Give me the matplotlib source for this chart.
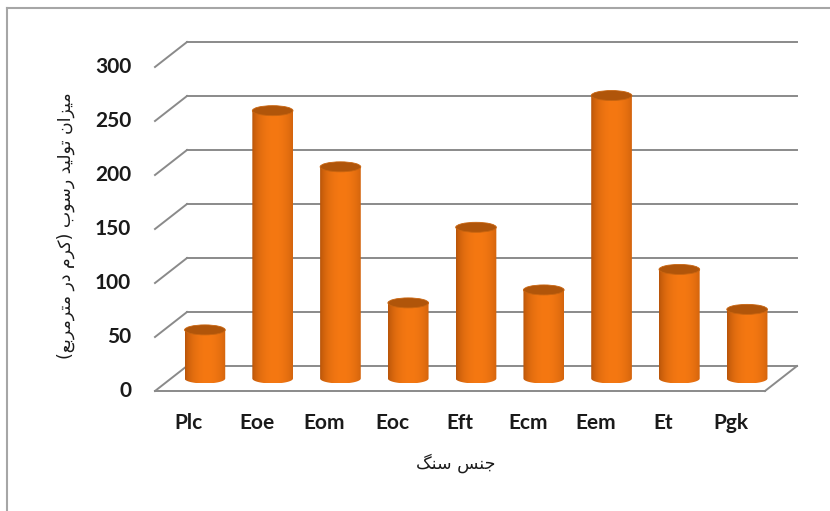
import numpy as np
import matplotlib.pyplot as plt
from matplotlib.patches import Ellipse, Polygon
from matplotlib.lines import Line2D

# data
categories = ['Plc', 'Eoe', 'Eom', 'Eoc', 'Eft', 'Ecm', 'Eem', 'Et', 'Pgk']
values = [45, 248, 196, 70, 140, 82, 262, 101, 64]
yticks = [0, 50, 100, 150, 200, 250, 300]
ylabel = 'میزان تولید رسوب (کرم در مترمربع)'
xlabel = 'جنس سنگ'

# small persian shaper (matplotlib has no arabic shaping / bidi)
FORMS = {
    'ا': (0xFE8D, 0xFE8E, None, None),
    'د': (0xFEA9, 0xFEAA, None, None),
    'ر': (0xFEAD, 0xFEAE, None, None),
    'ز': (0xFEAF, 0xFEB0, None, None),
    'و': (0xFEED, 0xFEEE, None, None),
    'ب': (0xFE8F, 0xFE90, 0xFE91, 0xFE92),
    'ت': (0xFE95, 0xFE96, 0xFE97, 0xFE98),
    'ج': (0xFE9D, 0xFE9E, 0xFE9F, 0xFEA0),
    'س': (0xFEB1, 0xFEB2, 0xFEB3, 0xFEB4),
    'ع': (0xFEC9, 0xFECA, 0xFECB, 0xFECC),
    'ل': (0xFEDD, 0xFEDE, 0xFEDF, 0xFEE0),
    'م': (0xFEE1, 0xFEE2, 0xFEE3, 0xFEE4),
    'ن': (0xFEE5, 0xFEE6, 0xFEE7, 0xFEE8),
    'ی': (0xFBFC, 0xFBFD, 0xFEF3, 0xFEF4),
    'ک': (0xFB8E, 0xFB8F, 0xFB90, 0xFB91),
    'گ': (0xFB92, 0xFB93, 0xFB94, 0xFB95),
}


def shape(s):
    out = []
    for i, c in enumerate(s):
        if c not in FORMS:
            out.append(c)
            continue
        prv = s[i - 1] if i > 0 else ''
        nxt = s[i + 1] if i + 1 < len(s) else ''
        dual = FORMS[c][2] is not None
        pj = prv in FORMS and FORMS[prv][2] is not None
        nj = dual and nxt in FORMS
        if pj and nj:
            k = 3
        elif pj:
            k = 1
        elif nj:
            k = 2
        else:
            k = 0
        out.append(chr(FORMS[c][k]))
    vis = ''.join(reversed(out))
    return vis.translate(str.maketrans('()', ')('))


fig = plt.figure(figsize=(8.3, 5.11), dpi=100)
W, H = 830, 511
ax = fig.add_axes([171 / W, (H - 378.5) / H, 610 / W, 324 / H])
ax.set_xlim(-0.5, 8.5)
ax.set_ylim(0, 300)
ax.axis('off')

PX = 9 / 610
PY = 300 / 324
DX = 16 * PX
DY = 12.5 * PY
gc = '#8a8a8a'

# walls / gridlines
for v in yticks:
    ax.plot([-0.5 + DX, 8.5 + DX], [v + DY, v + DY], color=gc, lw=1.4, clip_on=False, zorder=1)
    ax.plot([-0.5 - DX, -0.5 + DX], [v - DY, v + DY], color=gc, lw=1.4, clip_on=False, zorder=1)
ax.plot([-0.5 - DX, 8.5 - DX], [-DY, -DY], color=gc, lw=1.4, clip_on=False, zorder=1)
ax.plot([8.5 - DX, 8.5 + DX], [-DY, DY], color=gc, lw=1.4, clip_on=False, zorder=1)

# cylinder shading
t = np.linspace(0, 1, 200)
s = np.clip(1 - ((t - 0.55) / 0.58) ** 2, 0, 1) ** 0.55
dark = np.array([0.62, 0.27, 0.02])
bright = np.array([0.96, 0.47, 0.07])
grad = (dark[None, :] * (1 - s[:, None]) + bright[None, :] * s[:, None])[None, :, :]

w = 0.6
eh = 10 * PY
for i, v in enumerate(values):
    th = np.linspace(np.pi, 2 * np.pi, 40)
    pts = [(i + w / 2 * np.cos(a), eh / 2 * np.sin(a)) for a in th]
    pts += [(i + w / 2, v), (i - w / 2, v)]
    clip = Polygon(pts, closed=True, transform=ax.transData)
    im = ax.imshow(grad, extent=(i - w / 2, i + w / 2, -eh / 2, v), aspect='auto',
                   zorder=3, interpolation='bilinear')
    im.set_clip_path(clip)
    im.set_clip_box(fig.bbox)
    ax.add_patch(Ellipse((i, v), w, eh, facecolor='#b0550a', edgecolor='#c96510',
                         lw=0.6, zorder=4))

ax.set_xlim(-0.5, 8.5)
ax.set_ylim(0, 300)

# tick labels
for v in yticks:
    ax.text(-0.5 - DX - 24 * PX, v - DY, str(v), ha='right', va='center',
            fontsize=15, fontweight='bold', family='Lato', color='#1a1a1a')
for i, c in enumerate(categories):
    ax.text(i - DX, -DY - 32 * PY, c, ha='center', va='center',
            fontsize=15, fontweight='bold', family='Lato', color='#1a1a1a')

fig.text(66 / W, 1 - 226 / H, shape(ylabel), rotation=90, ha='center', va='center',
         fontsize=12.5, family='DejaVu Sans', color='#1a1a1a')
fig.text(456 / W, 1 - 463 / H, shape(xlabel), ha='center', va='center',
         fontsize=12.5, family='DejaVu Sans', color='#1a1a1a')

# chart border
fig.add_artist(Line2D([7 / W, 7 / W], [0, 1 - 8 / H], transform=fig.transFigure, color='#a6a6a6', lw=1.5))
fig.add_artist(Line2D([7 / W, 1], [1 - 8 / H, 1 - 8 / H], transform=fig.transFigure, color='#a6a6a6', lw=1.5))

fig.savefig('out.png', dpi=100)
